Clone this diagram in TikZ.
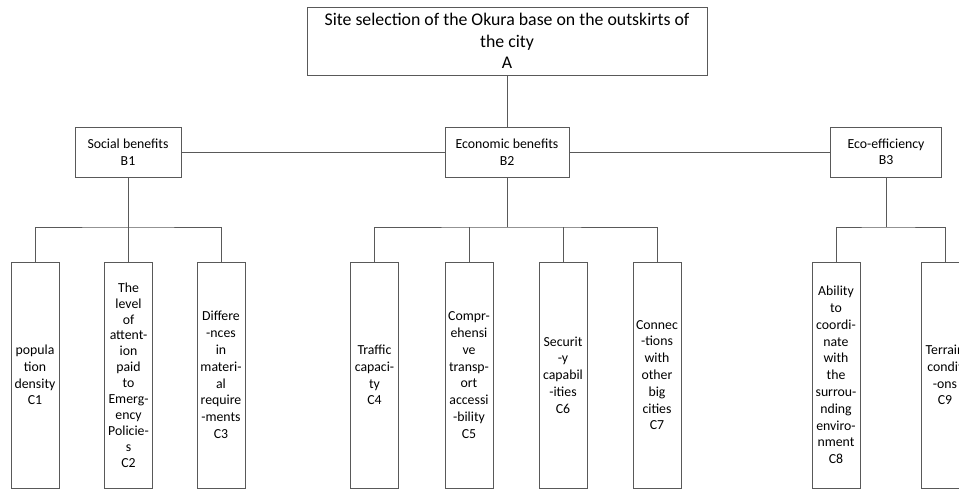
\documentclass[tikz,border=0pt]{standalone}
\usepackage{fontspec}
\setmainfont{Carlito}
\usepackage{tikz}

\tikzset{
    line/.style={draw=black!65, line width=0.8pt},
    topbox/.style={line, minimum width=400pt, minimum height=68pt, inner sep=0pt, align=center, font=\fontsize{17.8}{21.5}\selectfont},
    midbox/.style={line, minimum height=50pt, inner sep=0pt, align=center, font=\fontsize{13.8}{16.5}\selectfont},
    leafbox/.style={line, minimum width=48pt, minimum height=226pt, inner sep=0pt, align=center, font=\fontsize{13.8}{16.8}\selectfont}
}

\begin{document}
\begin{tikzpicture}[x=1pt, y=-1pt]
            \clip (0,0) rectangle (959,490);
            \useasboundingbox (0,0) rectangle (959,490);
            \node[topbox] (A) at (507,41) {Site selection of the Okura base on the outskirts of\\the city\\A};
            \node[midbox, minimum width=106pt] (B1) at (128,152) {Social benefits\\B1};
            \node[midbox, minimum width=124pt] (B2) at (507,152) {Economic benefits\\B2};
            \node[midbox, minimum width=111pt] (B3) at (886,152) {Eco-efficiency\\B3};
            \node[leafbox] (C1) at (35,375) {popula\\tion\\density\\C1};
            \node[leafbox, font=\fontsize{13.8}{15.9}\selectfont] (C2) at (128.5,375) {The\\level\\of\\attent-\\ion\\paid\\to\\Emerg-\\ency\\Policie-\\s\\C2};
            \node[leafbox] (C3) at (221,375) {Differe\\-nces\\in\\materi-\\al\\require\\-ments\\C3};
            \node[leafbox] (C4) at (374.5,375) {Traffic\\capaci-\\ty\\C4};
            \node[leafbox] (C5) at (469,375) {Compr-\\ehensi\\ve\\transp-\\ort\\accessi\\-bility\\C5};
            \node[leafbox] (C6) at (563,375) {Securit\\-y\\capabil\\-ities\\C6};
            \node[leafbox] (C7) at (657,375) {Connec\\-tions\\with\\other\\big\\cities\\C7};
            \node[leafbox] (C8) at (836,375) {Ability\\to\\coordi-\\nate\\with\\the\\surrou-\\nding\\enviro-\\nment\\C8};
            \node[leafbox] (C9) at (945,375) {Terrain\\condit\\-ons\\C9};
            \coordinate (f1) at (128,227);
            \coordinate (f2) at (507,227);
            \coordinate (f3) at (886,227);
            \draw[line] (A.south) -- (B2.north);
            \draw[line] (B1.east) -- (B2.west);
            \draw[line] (B2.east) -- (B3.west);
            \draw[line] (B1.south) -- (f1);
            \draw[line] (B2.south) -- (f2);
            \draw[line] (B3.south) -- (f3);
            \draw[line] (C1.north) |- (f1) -| (C3.north);
            \draw[line] (C2.north) -- (C2.north |- f1);
            \draw[line] (C4.north) |- (f2) -| (C7.north);
            \draw[line] (C5.north) -- (C5.north |- f2);
            \draw[line] (C6.north) -- (C6.north |- f2);
            \draw[line] (C8.north) |- (f3) -| (C9.north);
\end{tikzpicture}
\end{document}
